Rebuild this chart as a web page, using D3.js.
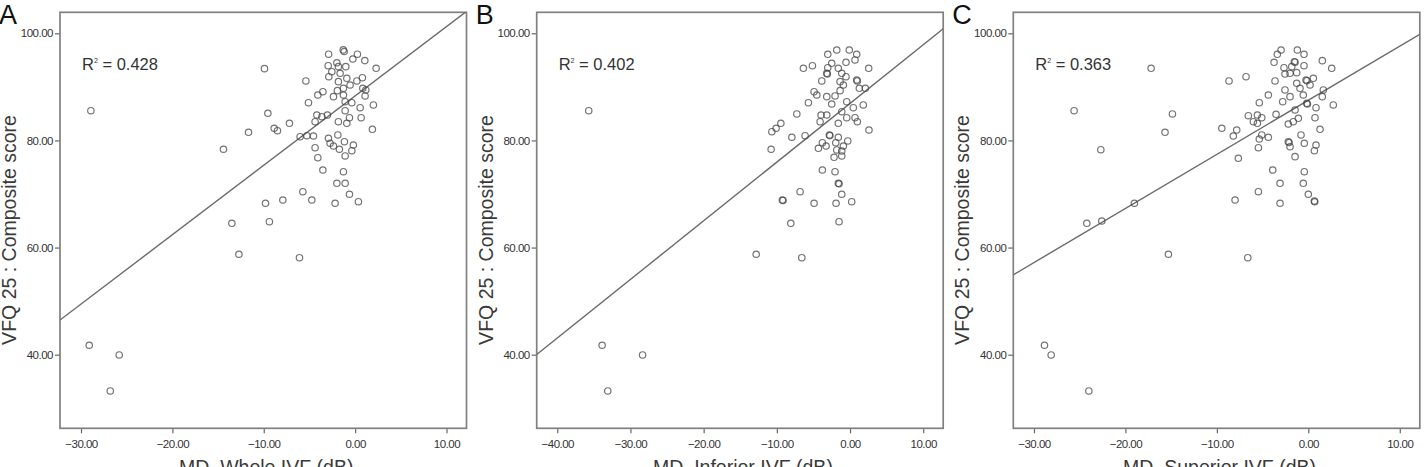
<!DOCTYPE html>
<html>
<head>
<meta charset="utf-8">
<script src="https://cdn.jsdelivr.net/npm/d3@7"></script>
<style>
  body { margin: 0; background: #fff; }
  svg { display: block; }
</style>
</head>
<body>
<div id="chart"></div>
<script>
// MD (dB) vs VFQ 25 composite score
const pointsA = [
  [-1.3, 96.9], [-1.2, 96.6], [-2.9, 96.1], [0.25, 96.1], [-0.25, 95.2], [1.06, 94.9],
  [-2.0, 94.5], [-2.95, 93.95], [-1.83, 93.77], [-1.02, 93.77], [2.3, 93.47], [-9.92, 93.4],
  [-2.55, 92.83], [-1.64, 92.53], [-2.88, 91.9], [-0.91, 91.6], [0.8, 91.71], [0.19, 91.1],
  [-5.39, 91.1], [-1.83, 90.97], [-0.55, 90.35], [0.84, 89.73], [1.17, 89.42], [-1.28, 89.73],
  [-1.94, 89.29], [-3.53, 89.1], [-4.08, 88.48], [-2.37, 88.17], [-1.28, 88.48], [1.09, 88.3],
  [-1.09, 87.23], [-0.36, 87.04], [-5.11, 87.04], [2.0, 86.62], [0.55, 86.11], [-1.09, 85.55],
  [-9.55, 85.07], [-4.19, 84.75], [-3.03, 84.75], [-3.64, 84.43], [-0.62, 84.24], [0.66, 84.24],
  [-4.38, 83.5], [-1.83, 83.5], [-0.91, 83.2], [-7.19, 83.2], [-8.86, 82.27], [-8.5, 81.82],
  [1.89, 82.08], [-11.67, 81.52], [-6.02, 80.7], [-5.28, 80.88], [-4.56, 80.83], [-1.89, 81.02],
  [-2.92, 80.4], [-2.74, 79.47], [-2.37, 78.96], [-1.17, 79.76], [-0.19, 79.15], [-1.72, 78.35],
  [-0.36, 78.08], [-4.38, 78.64], [-14.41, 78.35], [-1.09, 77.1], [-4.08, 76.78], [-3.53, 74.48],
  [-1.28, 74.16], [-2.0, 72.0], [-1.09, 72.0], [-5.72, 70.43], [-0.62, 69.95], [-7.91, 68.88],
  [-4.74, 68.88], [0.36, 68.56], [-2.19, 68.27], [-9.81, 68.27], [-13.49, 64.53], [-9.38, 64.83],
  [-12.72, 58.75], [-6.09, 58.11], [-28.92, 85.55], [-29.1, 41.76], [-25.82, 39.95], [-26.8, 33.23]
];

const pointsB = [
  [-1.81, 96.88], [-0.1, 96.88], [-3.04, 96.08], [0.91, 96.08], [0.68, 95.02], [-0.55, 94.59],
  [-2.5, 94.4], [-5.14, 93.95], [-6.37, 93.47], [2.55, 93.47], [-3.04, 93.58], [-1.6, 93.47],
  [-3.18, 92.53], [-3.1, 92.4], [-1.13, 92.53], [-0.55, 91.9], [-3.86, 91.1], [-1.36, 90.97],
  [0.91, 91.28], [1.0, 91.1], [-0.91, 90.35], [1.27, 89.73], [2.09, 89.73], [-1.36, 89.29],
  [-4.91, 89.1], [-4.54, 88.48], [-3.18, 88.17], [-2.05, 88.3], [-5.69, 87.04], [-0.45, 87.23],
  [-2.5, 86.8], [1.81, 86.62], [0.45, 86.11], [-7.27, 84.94], [-3.96, 84.75], [-3.18, 84.75],
  [-1.13, 85.36], [-0.45, 84.24], [0.68, 84.24], [-4.09, 83.5], [-1.6, 83.2], [1.0, 83.5],
  [-9.45, 83.2], [-10.1, 82.27], [-10.68, 81.63], [2.59, 81.95], [-7.95, 80.59], [-6.14, 80.88],
  [-2.82, 81.02], [-2.75, 80.9], [-1.6, 80.59], [-3.78, 79.58], [-3.27, 78.96], [-4.32, 78.53],
  [-1.95, 79.58], [-0.31, 79.9], [-0.91, 78.96], [-1.81, 78.22], [-1.13, 78.03], [-10.78, 78.35],
  [-2.18, 76.85], [-1.13, 77.1], [-3.78, 74.48], [-2.05, 74.16], [-1.6, 72.0], [-1.5, 71.9],
  [-6.82, 70.43], [-1.13, 69.95], [-9.24, 68.88], [-9.15, 68.8], [-4.91, 68.27], [-1.91, 68.27],
  [0.23, 68.56], [-8.09, 64.53], [-1.5, 64.83], [-12.82, 58.75], [-6.59, 58.11],
  [-35.7, 85.55], [-33.87, 41.76], [-28.34, 39.95], [-33.1, 33.23]
];

const pointsC = [
  [-2.98, 96.88], [-1.2, 96.88], [-3.39, 96.08], [-0.47, 96.08], [1.53, 94.89], [-3.75, 94.59],
  [-1.53, 94.7], [-1.45, 94.6], [-2.66, 93.58], [-1.81, 93.77], [-0.47, 93.95], [2.56, 93.47],
  [-2.55, 92.4], [-2.0, 92.53], [-1.27, 92.65], [-6.81, 91.9], [-8.67, 91.1], [-3.64, 91.1],
  [-0.25, 91.28], [-0.15, 91.15], [0.55, 91.6], [-1.27, 90.67], [0.19, 90.35], [-2.55, 89.42],
  [-0.91, 89.73], [1.64, 89.42], [-4.37, 88.48], [-2.0, 88.17], [-0.55, 88.48], [1.53, 88.17],
  [-2.8, 87.23], [-5.36, 87.04], [-0.17, 86.93], [-0.1, 86.8], [2.73, 86.62], [0.84, 86.11],
  [-1.45, 85.68], [-6.56, 84.62], [-5.57, 84.75], [-5.09, 84.24], [-3.53, 84.88], [-1.09, 84.13],
  [0.73, 84.24], [-6.01, 83.5], [-5.57, 83.2], [-2.19, 83.07], [-1.64, 83.5], [-9.46, 82.27],
  [-7.83, 81.95], [-8.2, 80.83], [1.28, 82.08], [-5.09, 81.02], [-4.37, 80.59], [-5.36, 80.27],
  [-0.8, 81.02], [-2.19, 79.76], [-2.1, 79.6], [-2.0, 78.83], [-0.44, 79.47], [0.84, 79.15],
  [0.66, 78.08], [-5.46, 78.64], [-1.45, 76.97], [-7.65, 76.67], [-3.89, 74.48], [-0.44, 74.16],
  [-3.09, 72.0], [-0.55, 72.0], [-5.46, 70.43], [0.0, 69.95], [-8.01, 68.88], [-3.09, 68.27],
  [0.66, 68.7], [0.7, 68.55], [-6.62, 58.11], [-25.61, 85.55], [-17.19, 93.47], [-14.86, 84.94],
  [-15.67, 81.52], [-22.69, 78.27], [-24.22, 64.53], [-22.58, 64.96], [-19.02, 68.27],
  [-15.3, 58.75], [-28.85, 41.76], [-28.12, 39.95], [-24.0, 33.23]
];

const panelLetters = ["A", "B", "C"];
const xTitles = ["MD, Whole IVF (dB)", "MD, Inferior IVF (dB)", "MD, Superior IVF (dB)"];
const yTitle = "VFQ 25 : Composite score";
const rSquared = ["0.428", "0.402", "0.363"];
const fitSlopes = [1.295, 1.095, 1.01];
const fitIntercepts = [88.3, 86.9, 87.5];
const xDomains = [[-32.3, 12.19], [-42.81, 12.73], [-32.26, 12.19]];
const xTicks = [[-30, -20, -10, 0, 10], [-40, -30, -20, -10, 0, 10], [-30, -20, -10, 0, 10]];
const yDomain = [26.26, 103.92];
const yTicks = [40, 60, 80, 100];

const allPoints = [pointsA, pointsB, pointsC];

const width = 1427, height = 467;
const frameLeft = [60, 536.7, 1013.3];
const frameW = 406.5;
const frameTop = 12.3, frameH = 416;

const svg = d3.select("#chart").append("svg")
    .attr("width", width)
    .attr("height", height)
    .style("font-family", "'Liberation Sans', Arial, sans-serif");

const fmt = d3.format(".2f");

panelLetters.forEach((letter, i) => {
    const g = svg.append("g")
        .attr("transform", `translate(${frameLeft[i]},${frameTop})`);

    const x = d3.scaleLinear().domain(xDomains[i]).range([0, frameW]);
    const y = d3.scaleLinear().domain(yDomain).range([frameH, 0]);

    // clip for the fit line
    g.append("clipPath").attr("id", "clip" + i)
        .append("rect").attr("width", frameW).attr("height", frameH);

    // axes
    const yAxis = g.append("g")
        .call(d3.axisLeft(y).tickValues(yTicks).tickSize(5).tickPadding(2).tickFormat(fmt));
    const xAxis = g.append("g")
        .attr("transform", `translate(0,${frameH})`)
        .call(d3.axisBottom(x).tickValues(xTicks[i]).tickSize(5).tickPadding(7).tickFormat(fmt));

    [yAxis, xAxis].forEach(a => {
        a.select(".domain").remove();
        a.selectAll(".tick line").attr("stroke", "#666").attr("stroke-width", 1.2);
        a.selectAll(".tick text")
            .attr("fill", "#333")
            .style("font-size", "11.5px")
            .style("letter-spacing", "-0.5px");
    });

    // frame
    g.append("rect")
        .attr("width", frameW)
        .attr("height", frameH)
        .attr("fill", "none")
        .attr("stroke", "#808080")
        .attr("stroke-width", 1.7);

    // fit line
    const x0 = xDomains[i][0], x1 = xDomains[i][1];
    g.append("line")
        .attr("clip-path", `url(#clip${i})`)
        .attr("x1", x(x0)).attr("y1", y(fitIntercepts[i] + fitSlopes[i] * x0))
        .attr("x2", x(x1)).attr("y2", y(fitIntercepts[i] + fitSlopes[i] * x1))
        .attr("stroke", "#6a6a6a")
        .attr("stroke-width", 1.4);

    // points
    g.append("g")
        .selectAll("circle")
        .data(allPoints[i])
        .enter()
        .append("circle")
        .attr("cx", d => x(d[0]))
        .attr("cy", d => y(d[1]))
        .attr("r", 3.2)
        .attr("fill", "none")
        .attr("stroke", "#444")
        .attr("stroke-opacity", 0.75)
        .attr("stroke-width", 1.2);

    // R squared
    const rt = g.append("text")
        .attr("x", 22)
        .attr("y", 58)
        .attr("fill", "#333")
        .style("font-size", "16.5px");
    rt.append("tspan").text("R");
    rt.append("tspan").attr("dy", -7).style("font-size", "7px").text("2");
    rt.append("tspan").attr("dy", 7).text(" = " + rSquared[i]);

    // panel letter
    svg.append("text")
        .attr("x", frameLeft[i] - 61)
        .attr("y", 24)
        .attr("fill", "#111")
        .style("font-size", "27px")
        .text(letter);

    // y title
    svg.append("text")
        .attr("transform", `translate(${frameLeft[i] - 44},230) rotate(-90)`)
        .attr("text-anchor", "middle")
        .attr("fill", "#3a3a3a")
        .style("font-size", "19.5px")
        .text(yTitle);

    // x title (cut off at the bottom like the source)
    g.append("text")
        .attr("x", frameW / 2 + 3)
        .attr("y", frameH + 46)
        .attr("text-anchor", "middle")
        .attr("fill", "#3a3a3a")
        .style("font-size", "19.5px")
        .text(xTitles[i]);
});
</script>
</body>
</html>
